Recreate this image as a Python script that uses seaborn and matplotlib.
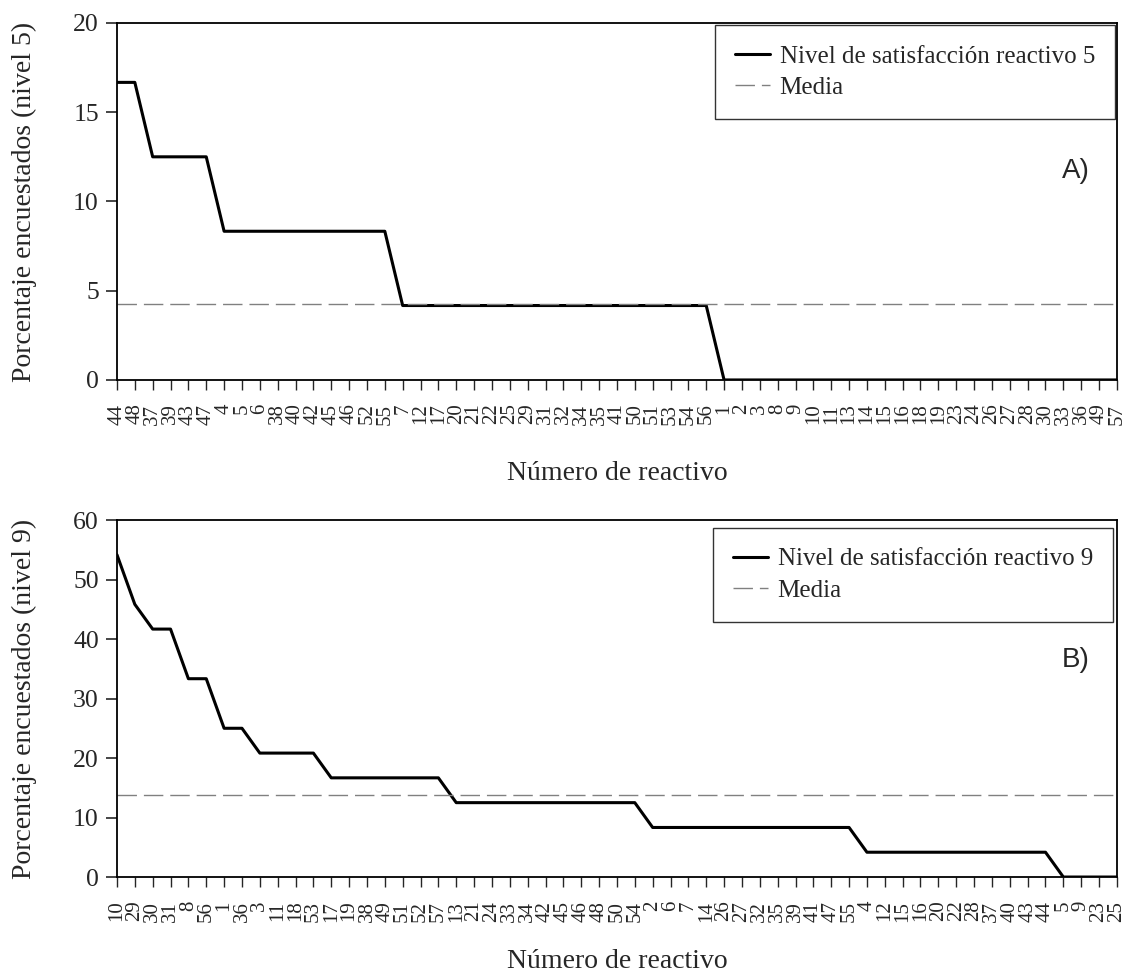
import numpy as np
import matplotlib
matplotlib.use("Agg")
import matplotlib.pyplot as plt
import seaborn as sns

# reactivos ordered by satisfaction level (panel A: nivel 5)
reactivos_a = [44, 48, 37, 39, 43, 47, 4, 5, 6, 38, 40, 42, 45, 46, 52, 55,
               7, 12, 17, 20, 21, 22, 25, 29, 31, 32, 34, 35, 41, 50, 51, 53, 54, 56,
               1, 2, 3, 8, 9, 10, 11, 13, 14, 15, 16, 18, 19, 23, 24, 26, 27, 28, 30, 33, 36, 49, 57]
pct_a = ([16.67] * 2 + [12.5] * 4 + [8.33] * 10 + [4.17] * 18 + [0.0] * 23)

# panel B: nivel 9
reactivos_b = [10, 29, 30, 31, 8, 56, 1, 36, 3, 11, 18, 53, 17, 19, 38, 49, 51, 52, 57,
               13, 21, 24, 33, 34, 42, 45, 46, 48, 50, 54,
               2, 6, 7, 14, 26, 27, 32, 35, 39, 41, 47, 55,
               4, 12, 15, 16, 20, 22, 28, 37, 40, 43, 44, 5, 9, 23, 25]
pct_b = ([54.17, 45.83, 41.67, 41.67, 33.33, 33.33, 25.0, 25.0]
         + [20.83] * 4 + [16.67] * 7 + [12.5] * 11 + [8.33] * 12 + [4.17] * 11 + [0.0] * 4)

sns.set_style("white")
plt.rcParams['font.family'] = ['Liberation Serif', 'DejaVu Serif']

fig = plt.figure(figsize=(11.29, 9.76), dpi=100)
ax_a = fig.add_axes([0.1036, 0.6107, 0.8857, 0.3658])
ax_b = fig.add_axes([0.1036, 0.1014, 0.8857, 0.3658])

panels = [
    (ax_a, reactivos_a, pct_a, 20, 5, "Porcentaje encuestados (nivel 5)",
     "Nivel de satisfacción reactivo 5", "A)", (0.998, 0.994), 0.585, 26),
    (ax_b, reactivos_b, pct_b, 60, 10, "Porcentaje encuestados (nivel 9)",
     "Nivel de satisfacción reactivo 9", "B)", (0.996, 0.978), 0.608, 20),
]

for ax, labels, vals, ymax, ystep, ylab, leglab, tag, anchor, tag_y, xpad in panels:
    pos = np.arange(len(vals))
    sns.lineplot(x=pos, y=vals, ax=ax, color="black", linewidth=2.2,
                 label=leglab)
    ax.axhline(np.mean(vals), color="#808080", linewidth=1.0,
               dashes=(14, 5), label="Media")

    ax.set_xlim(0, len(vals) - 1)
    ax.set_ylim(0, ymax)
    ax.set_yticks(np.arange(0, ymax + 1, ystep))
    ax.set_xticks(pos)
    ax.set_xticklabels([str(r) for r in labels], rotation=90, fontsize=15)
    ax.tick_params(axis="y", labelsize=18.5, direction="out", length=8, width=1.2,
                   left=True, pad=5)
    ax.tick_params(axis="x", direction="out", length=7, width=1.0, bottom=True, pad=10)
    for s in ax.spines.values():
        s.set_color("black")
        s.set_linewidth(1.3)

    ax.set_ylabel(ylab, fontsize=20, labelpad=26)
    ax.set_xlabel("Número de reactivo", fontsize=20, labelpad=xpad)

    leg = ax.legend(loc="upper right", bbox_to_anchor=anchor, borderaxespad=0,
                    fontsize=18, frameon=True, fancybox=False, handlelength=1.4,
                    handletextpad=0.4, borderpad=0.8, labelspacing=0.35)
    leg.get_frame().set_edgecolor("black")
    leg.get_frame().set_linewidth(1.0)

    ax.text(0.959, tag_y, tag, transform=ax.transAxes, fontsize=20,
            family=["Liberation Sans", "DejaVu Sans"], ha="center", va="center")

fig.savefig("out.png", dpi=100)
